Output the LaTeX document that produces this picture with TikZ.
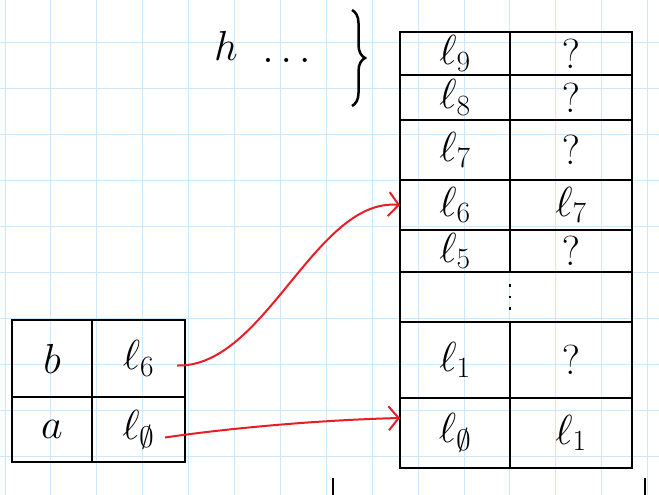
\documentclass[tikz,border=0pt]{standalone}
\usepackage{fix-cm}
\usepackage{amsmath}
\usepackage{amssymb}
\usepackage{xcolor}
\usepackage{tikz}
\usetikzlibrary{arrows.meta, positioning, decorations.pathreplacing}

\definecolor{gridblue}{RGB}{204,232,250}
\definecolor{penred}{RGB}{232,30,36}

\begin{document}
\begin{tikzpicture}[
    x=1pt, y=-1pt,
    every node/.style={font=\fontsize{42}{46}\selectfont, inner sep=0pt},
    pen/.style={line width=2.5pt, black},
    gridline/.style={line width=1pt, gridblue},
    cell/.style={draw, line width=2.5pt, outer sep=0pt, minimum width=#1},
    rededge/.style={line width=2pt, penred, -{Straight Barb[length=10pt, width=24pt]}}
  ]
  \fill[white] (0,0) rectangle (659,495);
  \useasboundingbox (0,0) rectangle (659,495);

  % squared paper
  \foreach \i in {0,...,14}
    \draw[gridline] ({5+45.9*\i},0) -- ({5+45.9*\i},495);
  \foreach \j in {1,...,10}
    \draw[gridline] (0,{-3+45.9*\j}) -- (659,{-3+45.9*\j});

  % h ... }
  \node (h) at (226,46) {$h$};
  \node (dots) at (290,60) {$\dots$};
  \draw[pen, decorate, decoration={brace, amplitude=13pt}] (352,10) -- (352,106);

  % big table
  \node[cell=110pt, minimum height=43pt] (l9) at (455,53.5) {$\ell_9$};
  \node[cell=122pt, minimum height=43pt, right=0pt of l9] (q9) {$?$};
  \node[cell=110pt, minimum height=45pt, below=0pt of l9] (l8) {$\ell_8$};
  \node[cell=122pt, minimum height=45pt, right=0pt of l8] (q8) {$?$};
  \node[cell=110pt, minimum height=60pt, below=0pt of l8] (l7) {$\ell_7$};
  \node[cell=122pt, minimum height=60pt, right=0pt of l7] (q7) {$?$};
  \node[cell=110pt, minimum height=50pt, below=0pt of l7] (l6) {$\ell_6$};
  \node[cell=122pt, minimum height=50pt, right=0pt of l6] (q6) {$\ell_7$};
  \node[cell=110pt, minimum height=42pt, below=0pt of l6] (l5) {$\ell_5$};
  \node[cell=122pt, minimum height=42pt, right=0pt of l5] (q5) {$?$};
  \node[cell=232pt, minimum height=50pt, below=0pt of l5.south west, anchor=north west] (ld) {};
  \node[cell=110pt, minimum height=76pt, below=0pt of ld.south west, anchor=north west] (l1) {$\ell_1$};
  \node[cell=122pt, minimum height=76pt, right=0pt of l1] (q1) {$?$};
  \node[cell=110pt, minimum height=70pt, below=0pt of l1] (l0) {$\ell_\emptyset$};
  \node[cell=122pt, minimum height=70pt, right=0pt of l0] (q0) {$\ell_1$};
  \draw[pen, dash pattern=on 2.5pt off 9pt] ([yshift=-12pt]l5.south east) -- ([yshift=10pt]l1.north east);

  % small table
  \node[cell=80pt, minimum height=77pt] (b) at (52,358.5) {$b$};
  \node[cell=93pt, minimum height=77pt, right=0pt of b] (lsix) {$\ell_6$};
  \node[cell=80pt, minimum height=65pt, below=0pt of b] (a) {$a$};
  \node[cell=93pt, minimum height=65pt, right=0pt of a] (lzero) {$\ell_\emptyset$};

  % pointers
  \draw[rededge] ([xshift=-8pt, yshift=-7pt]lsix.east) .. controls (265,368) and (315,198) .. (l6.west);
  \draw[rededge] ([xshift=-20pt, yshift=-8pt]lzero.east) .. controls (230,428) and (320,420) .. ([yshift=15pt]l0.west);

  % start of the next table
  \draw[pen] (333,478) -- (333,495);
  \draw[pen] (645,478) -- (645,495);
\end{tikzpicture}
\end{document}
